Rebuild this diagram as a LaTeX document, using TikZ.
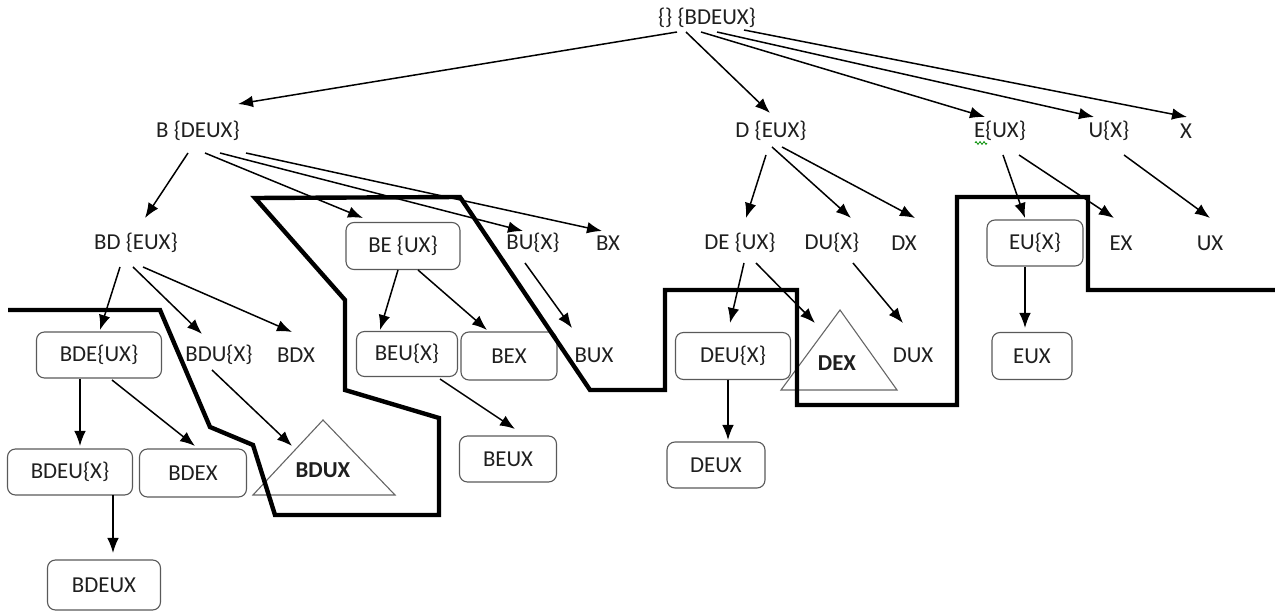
\documentclass[tikz,border=0pt]{standalone}
\usepackage{fontspec}
\setmainfont{Carlito}
\usetikzlibrary{arrows.meta,calc,decorations.pathmorphing}
\begin{document}
\begin{tikzpicture}[x=0.5pt,y=-0.5pt,
  lbl/.style={inner sep=0pt, text=black!88, font=\fontsize{11.4pt}{13pt}\selectfont},
  box/.style={lbl, draw=black!65, line width=0.55pt, rounded corners=4pt},
  bl/.style={lbl, font=\fontsize{11.4pt}{13pt}\selectfont\bfseries},
  tri/.style={draw=black!60, line width=0.55pt},
  arr/.style={line width=0.75pt, -{Latex[length=7.5pt,width=5.8pt]}},
  cut/.style={line width=2.2pt, line join=miter},
]
\useasboundingbox (0,0) rectangle (1275,614);
% level 0-1
\node[lbl] (root) at (707,18) {\{\} \{BDEUX\}};
\node[lbl] (B) at (198,131) {B \{DEUX\}};
\node[lbl] (D) at (771,131) {D \{EUX\}};
\node[lbl] (E) at (1000,131) {E\{UX\}};
\node[lbl] (U) at (1109,131) {U\{X\}};
\node[lbl] (X) at (1186,131) {X};
% level 2
\node[lbl] (BD) at (136,243) {BD \{EUX\}};
\node[box, minimum width=57pt, minimum height=23.5pt] (BE) at (403,246) {BE \{UX\}};
\node[lbl] (BU) at (533,243) {BU\{X\}};
\node[lbl] (BX) at (608,243) {BX};
\node[lbl] (DE) at (740,243) {DE \{UX\}};
\node[lbl] (DU) at (832,243) {DU\{X\}};
\node[lbl] (DX) at (904,243) {DX};
\node[box, minimum width=48pt, minimum height=23pt] (EU) at (1035,243) {EU\{X\}};
\node[lbl] (EX) at (1121,243) {EX};
\node[lbl] (UX) at (1210,243) {UX};
% level 3
\node[box, minimum width=62.5pt, minimum height=23pt] (BDE) at (99,355) {BDE\{UX\}};
\node[lbl] (BDU) at (219,355) {BDU\{X\}};
\node[lbl] (BDX) at (296,355) {BDX};
\node[box, minimum width=50.5pt, minimum height=22.5pt] (BEU) at (407,354) {BEU\{X\}};
\node[box, minimum width=48pt, minimum height=24pt] (BEX) at (509,356) {BEX};
\node[lbl] (BUX) at (594,355) {BUX};
\node[box, minimum width=57.5pt, minimum height=23.5pt] (DEU) at (733,356) {DEU\{X\}};
\node[bl] (DEX) at (837,363) {DEX};
\node[lbl] (DUX) at (913,355) {DUX};
\node[box, minimum width=40pt, minimum height=23.5pt] (EUX) at (1032,356) {EUX};
% level 4
\node[box, minimum width=62.5pt, minimum height=23pt] (BDEU) at (70,472) {BDEU\{X\}};
\node[box, minimum width=53.5pt, minimum height=24pt] (BDEX) at (193,473) {BDEX};
\node[bl] (BDUX) at (323,470) {BDUX};
\node[box, minimum width=48.5pt, minimum height=23pt] (BEUX) at (508,459) {BEUX};
\node[box, minimum width=49pt, minimum height=23pt] (DEUX) at (716,465) {DEUX};
% level 5
\node[box, minimum width=56.5pt, minimum height=25pt] (BDEUX) at (104,585) {BDEUX};
% triangles
\draw[tri] ($(BDUX)+(0,-50)$) -- ($(BDUX)+(-70,25)$) -- ($(BDUX)+(72,25)$) -- cycle;
\draw[tri] ($(DEX)+(3,-53)$) -- ($(DEX)+(-56,27)$) -- ($(DEX)+(60,27)$) -- cycle;
% spell-check squiggle
\draw[green!55!black, line width=0.4pt, decorate, decoration={zigzag, segment length=2pt, amplitude=0.7pt}] ($(E)+(-25,12)$) -- ($(E)+(-13,12)$);
% edges from root
\draw[arr] ($(root)+(-30,14)$) -- ($(B)+(40,-27)$);
\draw[arr] ($(root)+(-21,14)$) -- ($(D)+(-1,-18)$);
\draw[arr] ($(root)+(-6,14)$) -- ($(E)+(-15,-14)$);
\draw[arr] ($(root)+(10,14)$) -- ($(U)+(-15,-14)$);
\draw[arr] ($(root)+(37,12)$) -- ($(X)+(1,-14)$);
% B
\draw[arr] ($(B)+(-10,22)$) -- ($(BD)+(9,-25)$);
\draw[arr] ($(B)+(7,22)$) -- ($(BE)+(-40,-28)$);
\draw[arr] ($(B)+(22,22)$) -- ($(BU)+(-10,-12)$);
\draw[arr] ($(B)+(48,22)$) -- ($(BX)+(-6,-12)$);
% BD
\draw[arr] ($(BD)+(-16,24)$) -- ($(BDE)+(1,-25)$);
\draw[arr] ($(BD)+(-3,24)$) -- ($(BDU)+(-17,-21)$);
\draw[arr] ($(BD)+(7,24)$) -- ($(BDX)+(-4,-23)$);
% BE
\draw[arr] ($(BE)+(-5,24)$) -- ($(BEU)+(-27,-24)$);
\draw[arr] ($(BE)+(15,24)$) -- ($(BEX)+(-22,-26)$);
% BU
\draw[arr] ($(BU)+(-8,20)$) -- ($(BUX)+(-22,-27)$);
% BDE
\draw[arr] ($(BDE)+(-19,24)$) -- ($(BDEU)+(10,-26)$);
\draw[arr] ($(BDE)+(13,25)$) -- ($(BDEX)+(2,-27)$);
\draw[arr] ($(BDU)+(-7,15)$) -- ($(BDUX)+(-31,-24)$);
\draw[arr] ($(BDEU)+(43,23)$) -- ($(BDEUX)+(9,-32)$);
\draw[arr] ($(BEU)+(33,25)$) -- ($(BEUX)+(7,-30)$);
% D
\draw[arr] ($(D)+(-5,24)$) -- ($(DE)+(6,-25)$);
\draw[arr] ($(D)+(1,16)$) -- ($(DU)+(19,-25)$);
\draw[arr] ($(D)+(11,16)$) -- ($(DX)+(11,-25)$);
\draw[arr] ($(DE)+(4,20)$) -- ($(DEU)+(-3,-33)$);
\draw[arr] ($(DE)+(16,20)$) -- ($(DEX)+(-22,-40)$);
\draw[arr] ($(DU)+(21,20)$) -- ($(DUX)+(-10,-32)$);
\draw[arr] ($(DEU)+(-5,24)$) -- ($(DEUX)+(12,-25)$);
% E, U
\draw[arr] ($(E)+(3,24)$) -- ($(EU)+(-10,-25)$);
\draw[arr] ($(E)+(19,24)$) -- ($(EX)+(-7,-25)$);
\draw[arr] ($(U)+(15,24)$) -- ($(UX)+(0,-25)$);
\draw[arr] ($(EU)+(-10,24)$) -- ($(EUX)+(-7,-28)$);
% cut line
\draw[cut] (8,310) -- (160,310) -- (210,427) -- (253,445) -- (275,515) -- (439,515) -- (439,418) -- (345,390) -- (345,300) -- (255,198) -- (460,197) -- (590,390) -- (665,390) -- (665,290) -- (797,290) -- (797,405) -- (957,405) -- (957,197) -- (1088,197) -- (1088,290) -- (1275,290);
\end{tikzpicture}
\end{document}
